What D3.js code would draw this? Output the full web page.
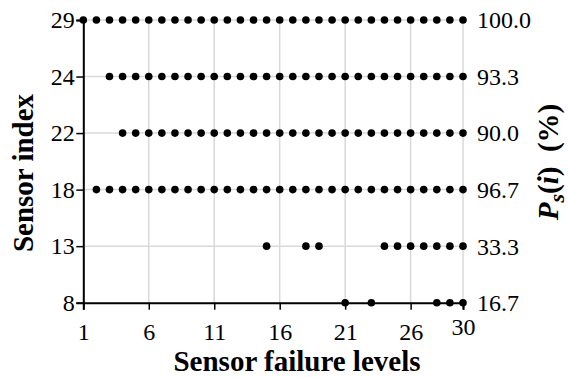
<!DOCTYPE html>
<html><head><meta charset="utf-8">
<script src="https://cdn.jsdelivr.net/npm/d3@7"></script>
<style>
html,body{margin:0;padding:0;background:#fff;}
</style></head>
<body><svg id="c" width="568" height="377"></svg>
<script>
// Data
const sensors = ["8", "13", "18", "22", "24", "29"];
const rightLabels = ["16.7", "33.3", "96.7", "90.0", "93.3", "100.0"];
const xTicks = [1, 6, 11, 16, 21, 26, 30];
// failure levels at which each sensor is marked
const failLevels = {
  "29": [1,2,3,4,5,6,7,8,9,10,11,12,13,14,15,16,17,18,19,20,21,22,23,24,25,26,27,28,29,30],
  "24": [3,4,5,6,7,8,9,10,11,12,13,14,15,16,17,18,19,20,21,22,23,24,25,26,27,28,29,30],
  "22": [4,5,6,7,8,9,10,11,12,13,14,15,16,17,18,19,20,21,22,23,24,25,26,27,28,29,30],
  "18": [2,3,4,5,6,7,8,9,10,11,12,13,14,15,16,17,18,19,20,21,22,23,24,25,26,27,28,29,30],
  "13": [15,18,19,24,25,26,27,28,29,30],
  "8":  [21,23,28,29,30]
};

const FF = "Liberation Serif";
const svg = d3.select("#c");
const L = 83.3, R = 463, T = 20, B = 302.7;
const x = d3.scaleLinear().domain([1, 30]).range([L, R]);
const y = d3.scalePoint().domain(sensors).range([B, T]);

const grid = svg.append("g").attr("stroke", "#d9d9d9").attr("stroke-width", 1.5);
grid.selectAll("line.v").data(xTicks.slice(1)).join("line")
  .attr("x1", d => x(d)).attr("x2", d => x(d)).attr("y1", T).attr("y2", B);
grid.selectAll("line.h").data(sensors.slice(1)).join("line")
  .attr("x1", L).attr("x2", R).attr("y1", d => y(d)).attr("y2", d => y(d));

// bottom axis
const xa = svg.append("g").attr("transform", `translate(0,${B})`)
  .call(d3.axisBottom(x).tickValues(xTicks).tickFormat(d3.format("d")).tickSizeOuter(0).tickSize(7).tickPadding(13));
xa.select(".domain").attr("stroke-width", 2);
xa.selectAll(".tick line").attr("stroke-width", 1.5);
xa.selectAll(".tick text").attr("font-size", 24).style("font-family", FF).attr("fill", "#000")
  .attr("dy", (d) => d === 30 ? "0.53em" : "0.71em");

// left axis
const ya = svg.append("g").attr("transform", `translate(${L},0)`)
  .call(d3.axisLeft(y).tickSizeOuter(0).tickSize(7).tickPadding(1.5));
ya.select(".domain").attr("stroke-width", 2);
ya.selectAll(".tick line").attr("stroke-width", 1.5);
ya.selectAll(".tick text").attr("font-size", 24).style("font-family", FF).attr("fill", "#000");

// right labels
svg.append("g").selectAll("text").data(sensors).join("text")
  .attr("x", R + 14).attr("y", d => y(d)).attr("dy", "0.35em")
  .attr("font-size", 24).style("font-family", FF)
  .text((d, i) => rightLabels[i]);

// dots
const pts = [];
sensors.forEach(s => failLevels[s].forEach(l => pts.push({s, l})));
svg.append("g").selectAll("circle").data(pts).join("circle")
  .attr("cx", d => x(d.l)).attr("cy", d => y(d.s)).attr("r", 3.8).attr("fill", "#000");

// titles
svg.append("text").attr("x", 297).attr("y", 371).attr("text-anchor", "middle")
  .attr("font-size", 29).attr("font-weight", "bold").style("font-family", FF).text("Sensor failure levels");
svg.append("text").attr("transform", "translate(33,173) rotate(-90)").attr("text-anchor", "middle")
  .attr("font-size", 29).attr("font-weight", "bold").style("font-family", FF).text("Sensor index");
const rt = svg.append("text").attr("transform", "translate(558,162) rotate(-90)").attr("text-anchor", "middle")
  .attr("font-size", 29).attr("font-weight", "bold").style("font-family", FF);
rt.append("tspan").attr("font-style", "italic").text("P");
rt.append("tspan").attr("font-style", "italic").attr("font-size", 22).attr("dy", 6).text("s");
rt.append("tspan").attr("dy", -6).text("(");
rt.append("tspan").attr("font-style", "italic").text("i");
rt.append("tspan").text(")\u00a0\u00a0(%)");
</script></body></html>
